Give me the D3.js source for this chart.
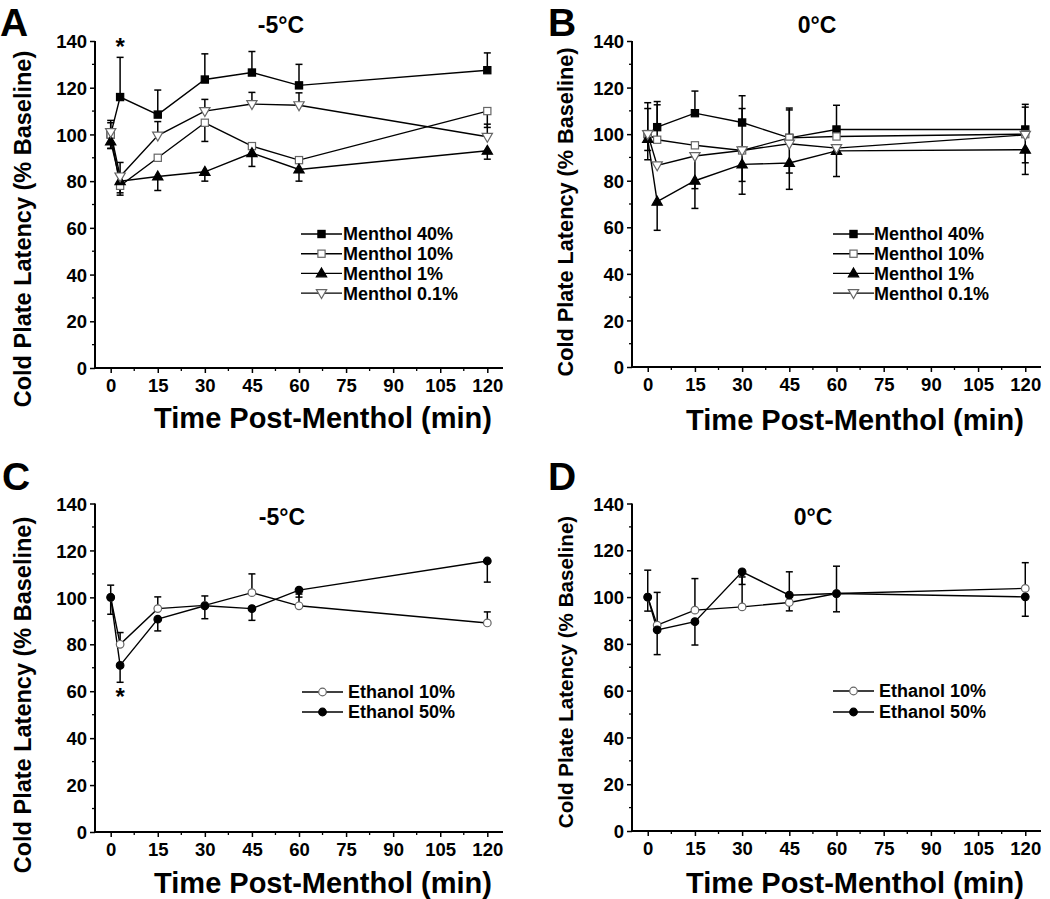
<!DOCTYPE html>
<html><head><meta charset="utf-8">
<script src="https://cdn.jsdelivr.net/npm/d3@7"></script>
<style>
html,body{margin:0;padding:0;background:#fff;}
svg{display:block;font-family:"Liberation Sans",Arial,sans-serif;font-weight:bold;}
</style></head>
<body>
<svg id="chart" width="1050" height="899"></svg>
<script>
// ---------- data ----------
const times = [0, 3, 15, 30, 45, 60, 120];
const xTicks = [0, 15, 30, 45, 60, 75, 90, 105, 120];
const yTicks = [0, 20, 40, 60, 80, 100, 120, 140];

// Panel A: Menthol, -5°C
const A_m40 = [100, 116, 108.5, 123.5, 126.5, 121, 127.5];
const A_m40_up = [6, 17, 10.5, 11, 9, 9, 7.4];
const A_m10 = [100, 78, 90, 105, 95, 89, 110];
const A_m10_dn = [6, 4, 0, 8, 0, 0, 7];
const A_m1 = [97, 80, 82, 84, 92, 85, 93];
const A_m1_dn = [3, 5, 6, 4, 5.7, 5, 3.6];
const A_m01 = [101, 82, 99.5, 110, 113, 112.5, 99];
const A_m01_up = [4, 6, 6, 5, 5, 5.3, 5.4];

// Panel B: Menthol, 0°C
const B_m40 = [100, 103, 109, 105, 98.4, 102, 102];
const B_m40_up = [13.5, 11, 9.5, 11.5, 12.8, 10.4, 10.8];
const B_m10 = [100, 97.6, 95.2, 93, 98.4, 99, 100];
const B_m10_up = [11, 15, 0, 18, 12, 0, 11.6];
const B_m1 = [98, 71, 80, 87, 87.6, 92.8, 93.3];
const B_m1_dn = [9, 12.3, 11.9, 12.8, 11.3, 11, 10.6];
const B_m01 = [100, 86.6, 90.6, 93, 95.9, 94, 99.7];
const B_m01_dn = [7, 0, 14, 13.3, 12.6, 0, 12];

// Panel C: Ethanol, -5°C
const C_e10 = [100, 80, 95.2, 96.6, 102, 96.4, 89.1];
const C_e10_up = [5.2, 5, 5, 4, 8, 5, 4.7];
const C_e50 = [100, 71, 90.7, 96.4, 95.2, 103.1, 115.5];
const C_e50_dn = [7.2, 7.2, 5, 5.5, 5, 3, 9];

// Panel D: Ethanol, 0°C
const D_e10 = [100, 88, 94.4, 95.8, 97.7, 101.5, 103.7];
const D_e10_up = [11.5, 14, 13.5, 12.8, 0, 11.7, 11];
const D_e10_dn = [0, 0, 0, 0, 3.6, 0, 0];
const D_e50 = [100, 86, 89.5, 110.8, 100.8, 101.5, 100.1];
const D_e50_up = [0, 0, 0, 0, 10, 0, 0];
const D_e50_dn = [6, 10.6, 10, 5.4, 0, 7.8, 8.3];

const mentholNames = ["Menthol 40%", "Menthol 10%", "Menthol 1%", "Menthol 0.1%"];
const ethanolNames = ["Ethanol 10%", "Ethanol 50%"];
const zeros = times.map(() => 0);

// ---------- styles ----------
const markerStyles = {
  sqFill:  {type: "square", filled: true},
  sqOpen:  {type: "square", filled: false},
  triUp:   {type: "triUp", filled: true},
  triDown: {type: "triDown", filled: false},
  cirOpen: {type: "circle", filled: false},
  cirFill: {type: "circle", filled: true}
};

const panels = [
  {letter: "A", lx: 0, ly: 35.5, title: "-5°C", tx: 281, ty: 33,
   left: 95, right: 503, top: 41, bottom: 368,
   ylx: 23, yly: 229, yls: 23.5, xlx: 323, xly: 428,
   legX: 301, legY: 234, legTX: 343, legGap: 19.7, star: {t: 3, v: 140, dy: 0},
   series: [
     {name: mentholNames[0], v: A_m40, up: A_m40_up, dn: zeros, m: markerStyles.sqFill},
     {name: mentholNames[1], v: A_m10, up: zeros, dn: A_m10_dn, m: markerStyles.sqOpen},
     {name: mentholNames[2], v: A_m1, up: zeros, dn: A_m1_dn, m: markerStyles.triUp},
     {name: mentholNames[3], v: A_m01, up: A_m01_up, dn: zeros, m: markerStyles.triDown}
   ]},
  {letter: "B", lx: 548, ly: 35.5, title: "0°C", tx: 817, ty: 33,
   left: 632, right: 1041, top: 41, bottom: 367,
   ylx: 565, yly: 212, yls: 21.7, xlx: 855, xly: 430,
   legX: 833, legY: 234, legTX: 874, legGap: 19.7,
   series: [
     {name: mentholNames[0], v: B_m40, up: B_m40_up, dn: zeros, m: markerStyles.sqFill},
     {name: mentholNames[1], v: B_m10, up: B_m10_up, dn: zeros, m: markerStyles.sqOpen},
     {name: mentholNames[2], v: B_m1, up: zeros, dn: B_m1_dn, m: markerStyles.triUp},
     {name: mentholNames[3], v: B_m01, up: zeros, dn: B_m01_dn, m: markerStyles.triDown}
   ]},
  {letter: "C", lx: 2, ly: 490, title: "-5°C", tx: 282, ty: 525,
   left: 95, right: 503, top: 503.5, bottom: 832,
   ylx: 23, yly: 695, yls: 23.5, xlx: 323, xly: 893,
   legX: 302, legY: 692, legTX: 348, legGap: 20, star: {t: 3, v: 60, dy: 0},
   series: [
     {name: ethanolNames[0], v: C_e10, up: C_e10_up, dn: zeros, m: markerStyles.cirOpen},
     {name: ethanolNames[1], v: C_e50, up: zeros, dn: C_e50_dn, m: markerStyles.cirFill}
   ]},
  {letter: "D", lx: 548, ly: 490, title: "0°C", tx: 813, ty: 525,
   left: 632, right: 1041, top: 503.5, bottom: 831,
   ylx: 566, yly: 672, yls: 20.6, xlx: 855, xly: 893,
   legX: 833, legY: 691, legTX: 879, legGap: 21,
   series: [
     {name: ethanolNames[0], v: D_e10, up: D_e10_up, dn: D_e10_dn, m: markerStyles.cirOpen},
     {name: ethanolNames[1], v: D_e50, up: D_e50_up, dn: D_e50_dn, m: markerStyles.cirFill}
   ]}
];

const svg = d3.select("#chart");

function drawMarker(g, m, x, y) {
  const fill = m.filled ? "#000" : "#fff";
  const stroke = m.filled ? "#000" : "#666";
  let sel;
  if (m.type === "square") {
    sel = g.append("rect").attr("x", x - 3.6).attr("y", y - 3.6).attr("width", 7.2).attr("height", 7.2);
  } else if (m.type === "circle") {
    sel = g.append("circle").attr("cx", x).attr("cy", y).attr("r", 3.8);
  } else {
    const sym = d3.symbol().type(d3.symbolTriangle).size(46)();
    sel = g.append("path").attr("d", sym)
      .attr("transform", `translate(${x},${m.type === "triDown" ? y - 0.5 : y + 0.5})${m.type === "triDown" ? " rotate(180)" : ""}`);
  }
  sel.attr("fill", fill).attr("stroke", stroke).attr("stroke-width", 1.2);
}

panels.forEach(p => {
  const g = svg.append("g");
  const x = d3.scaleLinear().domain([-5, 125]).range([p.left, p.right]);
  const y = d3.scaleLinear().domain([0, 140]).range([p.bottom, p.top]);

  // minor ticks
  const xMinor = d3.range(7.5, 120, 15);
  const yMinor = d3.range(10, 140, 20);
  const xAxis = d3.axisBottom(x).tickValues(xTicks).tickSize(5).tickPadding(6).tickSizeOuter(0);
  const yAxis = d3.axisLeft(y).tickValues(yTicks).tickSize(5).tickPadding(3).tickSizeOuter(0);

  const gx = g.append("g").attr("transform", `translate(0,${p.bottom})`).call(xAxis);
  const gy = g.append("g").attr("transform", `translate(${p.left},0)`).call(yAxis);
  [gx, gy].forEach(a => {
    a.select(".domain").attr("stroke", "#000").attr("stroke-width", 2);
    a.selectAll(".tick line").attr("stroke", "#000").attr("stroke-width", 1.5);
    a.selectAll(".tick text").attr("fill", "#000")
      .style("font-family", '"Liberation Sans",Arial,sans-serif')
      .style("font-weight", "bold").style("font-size", "18.5px");
  });
  gx.select(".domain").attr("d", `M${p.left},0H${p.right}`);
  gy.select(".domain").attr("d", `M0,${p.bottom}V${p.top}`);
  gx.selectAll(".tick text").attr("dy", "0.71em");
  gy.selectAll(".tick text").attr("dy", "0.36em");

  g.append("g").selectAll("line").data(xMinor).join("line")
    .attr("x1", d => x(d)).attr("x2", d => x(d))
    .attr("y1", p.bottom).attr("y2", p.bottom + 3)
    .attr("stroke", "#000").attr("stroke-width", 1.3);
  g.append("g").selectAll("line").data(yMinor).join("line")
    .attr("y1", d => y(d)).attr("y2", d => y(d))
    .attr("x1", p.left).attr("x2", p.left - 3)
    .attr("stroke", "#000").attr("stroke-width", 1.3);

  // labels
  g.append("text").attr("x", p.lx).attr("y", p.ly).text(p.letter)
    .attr("font-size", 39).attr("fill", "#000");
  g.append("text").attr("x", p.tx).attr("y", p.ty).attr("text-anchor", "middle")
    .attr("font-size", 23).attr("fill", "#000").text(p.title);
  g.append("text").attr("transform", `translate(${p.ylx},${p.yly}) rotate(-90)`)
    .attr("text-anchor", "middle").attr("dy", "0.36em")
    .attr("font-size", p.yls).attr("fill", "#000").text("Cold Plate Latency (% Baseline)");
  g.append("text").attr("x", p.xlx).attr("y", p.xly).attr("text-anchor", "middle")
    .attr("font-size", 29).attr("fill", "#000").text("Time Post-Menthol (min)");

  const line = d3.line().x((d, i) => x(times[i])).y(d => y(d));

  // lines
  p.series.forEach(s => {
    g.append("path").attr("d", line(s.v)).attr("fill", "none")
      .attr("stroke", "#000").attr("stroke-width", 1.4);
  });
  // error bars
  p.series.forEach(s => {
    s.v.forEach((v, i) => {
      const cx = x(times[i]);
      [[s.up[i], 1], [s.dn[i], -1]].forEach(([e, dir]) => {
        if (!e) return;
        const yEnd = y(v + dir * e);
        g.append("line").attr("x1", cx).attr("x2", cx).attr("y1", y(v)).attr("y2", yEnd)
          .attr("stroke", "#000").attr("stroke-width", 1.5);
        g.append("line").attr("x1", cx - 3.5).attr("x2", cx + 3.5).attr("y1", yEnd).attr("y2", yEnd)
          .attr("stroke", "#000").attr("stroke-width", 1.5);
      });
    });
  });
  // markers
  p.series.forEach(s => {
    s.v.forEach((v, i) => drawMarker(g, s.m, x(times[i]), y(v)));
  });

  // significance star
  if (p.star) {
    g.append("text").attr("x", x(p.star.t)).attr("y", y(p.star.v) + 14)
      .attr("text-anchor", "middle").attr("font-size", 24).attr("fill", "#000").text("*");
  }

  // legend
  p.series.forEach((s, i) => {
    const ly = p.legY + i * p.legGap;
    g.append("line").attr("x1", p.legX).attr("x2", p.legX + 41).attr("y1", ly).attr("y2", ly)
      .attr("stroke", "#000").attr("stroke-width", 1.4);
    drawMarker(g, s.m, p.legX + 20.5, ly);
    g.append("text").attr("x", p.legTX).attr("y", ly).attr("dy", "0.36em")
      .attr("font-size", 18).attr("fill", "#000").text(s.name);
  });
});
</script>
</body></html>
